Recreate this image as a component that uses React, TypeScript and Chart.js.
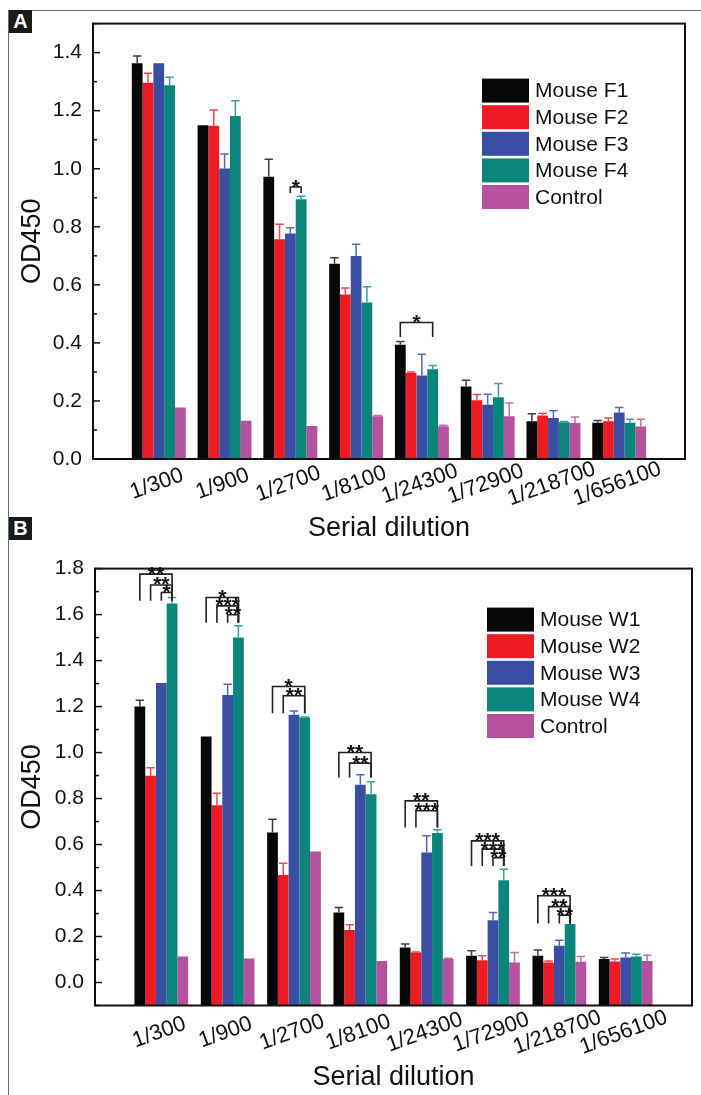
import React, { useEffect, useRef } from 'react';
import { Chart, registerables } from 'chart.js';
Chart.register(...registerables);

const FONT = '"Liberation Sans", Arial, Helvetica, sans-serif';

const categories = ['1/300', '1/900', '1/2700', '1/8100', '1/24300', '1/72900', '1/218700', '1/656100'];
const seriesNamesA = ['Mouse F1', 'Mouse F2', 'Mouse F3', 'Mouse F4', 'Control'];
const seriesNamesB = ['Mouse W1', 'Mouse W2', 'Mouse W3', 'Mouse W4', 'Control'];
const barColors = ['#070707', '#ed1c24', '#3a4fa3', '#0b847c', '#b5519e'];
const errColors = ['#3c3c3c', '#f0464c', '#5767b8', '#3f9f98', '#c46cb0'];
const xTitle = 'Serial dilution';
const yTitle = 'OD450';

// Panel A values (OD450) and upper error
const mouseF1 = [1.363, 1.150, 0.972, 0.673, 0.394, 0.250, 0.130, 0.125];
const mouseF1Err = [0.025, 0, 0.061, 0.020, 0.011, 0.021, 0.026, 0.008];
const mouseF2 = [1.296, 1.148, 0.757, 0.567, 0.296, 0.202, 0.150, 0.130];
const mouseF2Err = [0.033, 0.054, 0.052, 0.022, 0.004, 0.020, 0.008, 0.011];
const mouseF3 = [1.363, 1.001, 0.777, 0.699, 0.288, 0.187, 0.141, 0.160];
const mouseF3Err = [0, 0.050, 0.020, 0.041, 0.073, 0.036, 0.025, 0.017];
const mouseF4 = [1.288, 1.182, 0.895, 0.539, 0.309, 0.213, 0.127, 0.125];
const mouseF4Err = [0.027, 0.052, 0.010, 0.054, 0.013, 0.047, 0.002, 0.012];
const controlA = [0.177, 0.132, 0.114, 0.147, 0.113, 0.147, 0.124, 0.112];
const controlAErr = [0, 0, 0, 0.003, 0.003, 0.046, 0.021, 0.025];

// Panel B values (OD450) and upper error
const mouseW1 = [1.200, 1.070, 0.652, 0.304, 0.152, 0.116, 0.116, 0.102];
const mouseW1Err = [0.028, 0, 0.058, 0.022, 0.015, 0.022, 0.025, 0.007];
const mouseW2 = [0.899, 0.771, 0.468, 0.228, 0.130, 0.097, 0.087, 0.091];
const mouseW2Err = [0.035, 0.052, 0.051, 0.023, 0.003, 0.019, 0.007, 0.011];
const mouseW3 = [1.302, 1.250, 1.164, 0.860, 0.565, 0.271, 0.160, 0.109];
const mouseW3Err = [0, 0.047, 0.017, 0.043, 0.073, 0.033, 0.024, 0.019];
const mouseW4 = [1.648, 1.500, 1.152, 0.819, 0.650, 0.445, 0.254, 0.113];
const mouseW4Err = [0.026, 0.051, 0.003, 0.054, 0.014, 0.048, 0, 0.010];
const controlB = [0.113, 0.104, 0.570, 0.094, 0.102, 0.087, 0.090, 0.094];
const controlBErr = [0, 0, 0, 0, 0.003, 0.043, 0.023, 0.025];

// Significance brackets: [category index, from series, to series, top value, leg bottom value, label]
const bracketsA: [number, number, number, number, number, string][] = [
  [2, 2, 3, 0.937, 0.916, '*'],
  [4, 0, 3, 0.470, 0.420, '*'],
];
const bracketsB: [number, number, number, number, number, string][] = [
  [0, 0, 3, 1.776, 1.660, '**'],
  [0, 1, 3, 1.729, 1.660, '**'],
  [0, 2, 3, 1.696, 1.660, '*'],
  [1, 0, 3, 1.674, 1.565, '*'],
  [1, 1, 3, 1.638, 1.565, '***'],
  [1, 2, 3, 1.599, 1.565, '**'],
  [2, 0, 3, 1.287, 1.171, '*'],
  [2, 1, 3, 1.247, 1.171, '**'],
  [3, 0, 3, 1.000, 0.891, '**'],
  [3, 1, 3, 0.954, 0.891, '**'],
  [4, 0, 3, 0.790, 0.674, '**'],
  [4, 1, 3, 0.747, 0.674, '***'],
  [5, 0, 3, 0.616, 0.507, '***'],
  [5, 1, 3, 0.580, 0.507, '***'],
  [5, 2, 3, 0.543, 0.507, '**'],
  [6, 0, 3, 0.377, 0.257, '***'],
  [6, 1, 3, 0.330, 0.257, '**'],
  [6, 2, 3, 0.293, 0.257, '**'],
];

type PanelCfg = {
  names: string[];
  values: number[][];
  errors: number[][];
  brackets: [number, number, number, number, number, string][];
  yMin: number;
  yMax: number;
  padding: { top: number; right: number; bottom: number; left: number };
  yAxisWidth: number;
  legendRight: number;
  legendTop: number;
  xLabelDy: number;
  xTitleBaseline: number;
  catPct: number;
};

function makePlugin(p: PanelCfg) {
  return {
    id: 'customDraw',
    afterDatasetsDraw(chart: any) {
      const ctx = chart.ctx as CanvasRenderingContext2D;
      const area = chart.chartArea;
      const ys = chart.scales.y;
      const xs = chart.scales.x;
      ctx.save();
      // error bars
      p.errors.forEach((errs, di) => {
        const meta = chart.getDatasetMeta(di);
        errs.forEach((e, ci) => {
          if (!e) return;
          const el = meta.data[ci + 1];
          const yTop = ys.getPixelForValue(p.values[di][ci] + e);
          ctx.strokeStyle = errColors[di];
          ctx.lineWidth = 1.5;
          ctx.beginPath();
          ctx.moveTo(el.x, el.y);
          ctx.lineTo(el.x, yTop);
          ctx.moveTo(el.x - 4.2, yTop);
          ctx.lineTo(el.x + 4.2, yTop);
          ctx.stroke();
        });
      });
      // frame
      ctx.strokeStyle = '#111';
      ctx.lineWidth = 2;
      ctx.strokeRect(area.left, area.top, area.right - area.left, area.bottom - area.top);
      // y ticks (inward), major every 0.2 and minor every 0.1
      ctx.lineWidth = 1.5;
      for (let k = Math.ceil(p.yMin * 10 - 1e-6); k <= Math.floor(p.yMax * 10 + 1e-6); k++) {
        const y = ys.getPixelForValue(k / 10);
        const len = k % 2 === 0 ? 7 : 4;
        ctx.beginPath();
        ctx.moveTo(area.left, y);
        ctx.lineTo(area.left + len, y);
        ctx.stroke();
      }
      // brackets
      ctx.strokeStyle = '#222';
      ctx.lineWidth = 1.6;
      ctx.fillStyle = '#111';
      ctx.font = `bold 21px ${FONT}`;
      ctx.textAlign = 'center';
      ctx.textBaseline = 'alphabetic';
      p.brackets.forEach(([cat, from, to, top, bottom, label]) => {
        const a = chart.getDatasetMeta(from).data[cat + 1];
        const b = chart.getDatasetMeta(to).data[cat + 1];
        const yt = ys.getPixelForValue(top);
        const yb = ys.getPixelForValue(bottom);
        ctx.beginPath();
        ctx.moveTo(a.x, yb);
        ctx.lineTo(a.x, yt);
        ctx.lineTo(b.x, yt);
        ctx.lineTo(b.x, yb);
        ctx.stroke();
        ctx.fillText(label, (a.x + b.x) / 2, yt + 6.5);
      });
      // legend
      const boxW = 47, boxH = 24, pitch = 26.6;
      const lx = area.right - p.legendRight;
      p.names.forEach((name, i) => {
        const y = area.top + p.legendTop + i * pitch;
        ctx.fillStyle = barColors[i];
        ctx.fillRect(lx, y, boxW, boxH);
        ctx.fillStyle = '#111';
        ctx.font = `21px ${FONT}`;
        ctx.textAlign = 'left';
        ctx.textBaseline = 'middle';
        ctx.fillText(name, lx + boxW + 6, y + boxH / 2 + 1);
      });
      // x tick labels (rotated, centred on the category)
      ctx.font = `22px ${FONT}`;
      ctx.fillStyle = '#111';
      categories.forEach((c, i) => {
        const x = xs.getPixelForValue(i + 1) - 2;
        const y = area.bottom + p.xLabelDy;
        ctx.save();
        ctx.translate(x, y);
        ctx.rotate(-20 * Math.PI / 180);
        ctx.textAlign = 'center';
        ctx.textBaseline = 'middle';
        ctx.fillText(c, 0, 0);
        ctx.restore();
      });
      // axis titles
      ctx.font = `27px ${FONT}`;
      ctx.textAlign = 'center';
      ctx.textBaseline = 'alphabetic';
      ctx.fillText(xTitle, (area.left + area.right) / 2, p.xTitleBaseline);
      ctx.save();
      ctx.translate(33, (area.top + area.bottom) / 2);
      ctx.rotate(-Math.PI / 2);
      ctx.textBaseline = 'middle';
      ctx.fillText(yTitle, 0, 0);
      ctx.restore();
      ctx.restore();
    },
  };
}

function ChartPanel({ cfg, top, height }: { cfg: PanelCfg; top: number; height: number }) {
  const ref = useRef<HTMLCanvasElement>(null);
  useEffect(() => {
    if (!ref.current) return;
    const labels = ['', ...categories, ''];
    const datasets = cfg.values.map((vals, i) => ({
      label: cfg.names[i],
      data: [null, ...vals, null],
      backgroundColor: barColors[i],
      borderWidth: 0,
      base: cfg.yMin,
      categoryPercentage: cfg.catPct,
      barPercentage: 1,
    }));
    const chart = new Chart(ref.current, {
      type: 'bar',
      data: { labels, datasets: datasets as any },
      options: {
        responsive: false,
        animation: false,
        devicePixelRatio: 1,
        layout: { padding: cfg.padding },
        plugins: { legend: { display: false }, tooltip: { enabled: false } },
        scales: {
          x: {
            type: 'category',
            offset: false,
            grid: { display: false, drawTicks: false },
            border: { display: false },
            ticks: { display: false },
            afterFit: (s: any) => { s.height = 0; },
          },
          y: {
            min: cfg.yMin,
            max: cfg.yMax,
            grid: { display: false, drawTicks: false },
            border: { display: false },
            ticks: {
              stepSize: 0.2,
              includeBounds: false,
              padding: 11,
              color: '#111',
              font: { family: FONT, size: 21 },
              callback: (v: any) => Number(v).toFixed(1),
            },
            afterFit: (s: any) => { s.width = cfg.yAxisWidth; },
          },
        },
      } as any,
      plugins: [makePlugin(cfg)],
    });
    return () => chart.destroy();
  }, []);
  return (
    <canvas
      ref={ref}
      width={701}
      height={height}
      style={{ position: 'absolute', left: 0, top, width: 701, height }}
    />
  );
}

const panelA: PanelCfg = {
  names: seriesNamesA,
  values: [mouseF1, mouseF2, mouseF3, mouseF4, controlA],
  errors: [mouseF1Err, mouseF2Err, mouseF3Err, mouseF4Err, controlAErr],
  brackets: bracketsA,
  yMin: 0,
  yMax: 1.5,
  padding: { top: 23, right: 16, bottom: 86, left: 0 },
  yAxisWidth: 93,
  legendRight: 203,
  legendTop: 55,
  xLabelDy: 25,
  xTitleBaseline: 536,
  catPct: 0.82,
};

const panelB: PanelCfg = {
  names: seriesNamesB,
  values: [mouseW1, mouseW2, mouseW3, mouseW4, controlB],
  errors: [mouseW1Err, mouseW2Err, mouseW3Err, mouseW4Err, controlBErr],
  brackets: bracketsB,
  yMin: -0.1,
  yMax: 1.8,
  padding: { top: 22, right: 9, bottom: 89.5, left: 0 },
  yAxisWidth: 95,
  legendRight: 205,
  legendTop: 39,
  xLabelDy: 27,
  xTitleBaseline: 1085 - 545,
  catPct: 0.81,
};

const labelBox: React.CSSProperties = {
  position: 'absolute',
  left: 9,
  width: 23,
  height: 23,
  background: '#1a1a1a',
  color: '#fff',
  fontFamily: FONT,
  fontWeight: 'bold',
  fontSize: 20,
  lineHeight: '23px',
  textAlign: 'center',
};

export default function App() {
  return (
    <div style={{ position: 'absolute', left: 0, top: 0, width: 701, height: 1095, background: '#fff', overflow: 'hidden' }}>
      <div style={{ position: 'absolute', left: 8, top: 10, width: 693, height: 1085, borderTop: '1.5px solid #6a6a6a', borderLeft: '1.5px solid #6a6a6a', boxSizing: 'border-box' }} />
      <ChartPanel cfg={panelA} top={0} height={545} />
      <ChartPanel cfg={panelB} top={545} height={550} />
      <div style={{ ...labelBox, top: 10 }}>A</div>
      <div style={{ ...labelBox, top: 517 }}>B</div>
    </div>
  );
}
